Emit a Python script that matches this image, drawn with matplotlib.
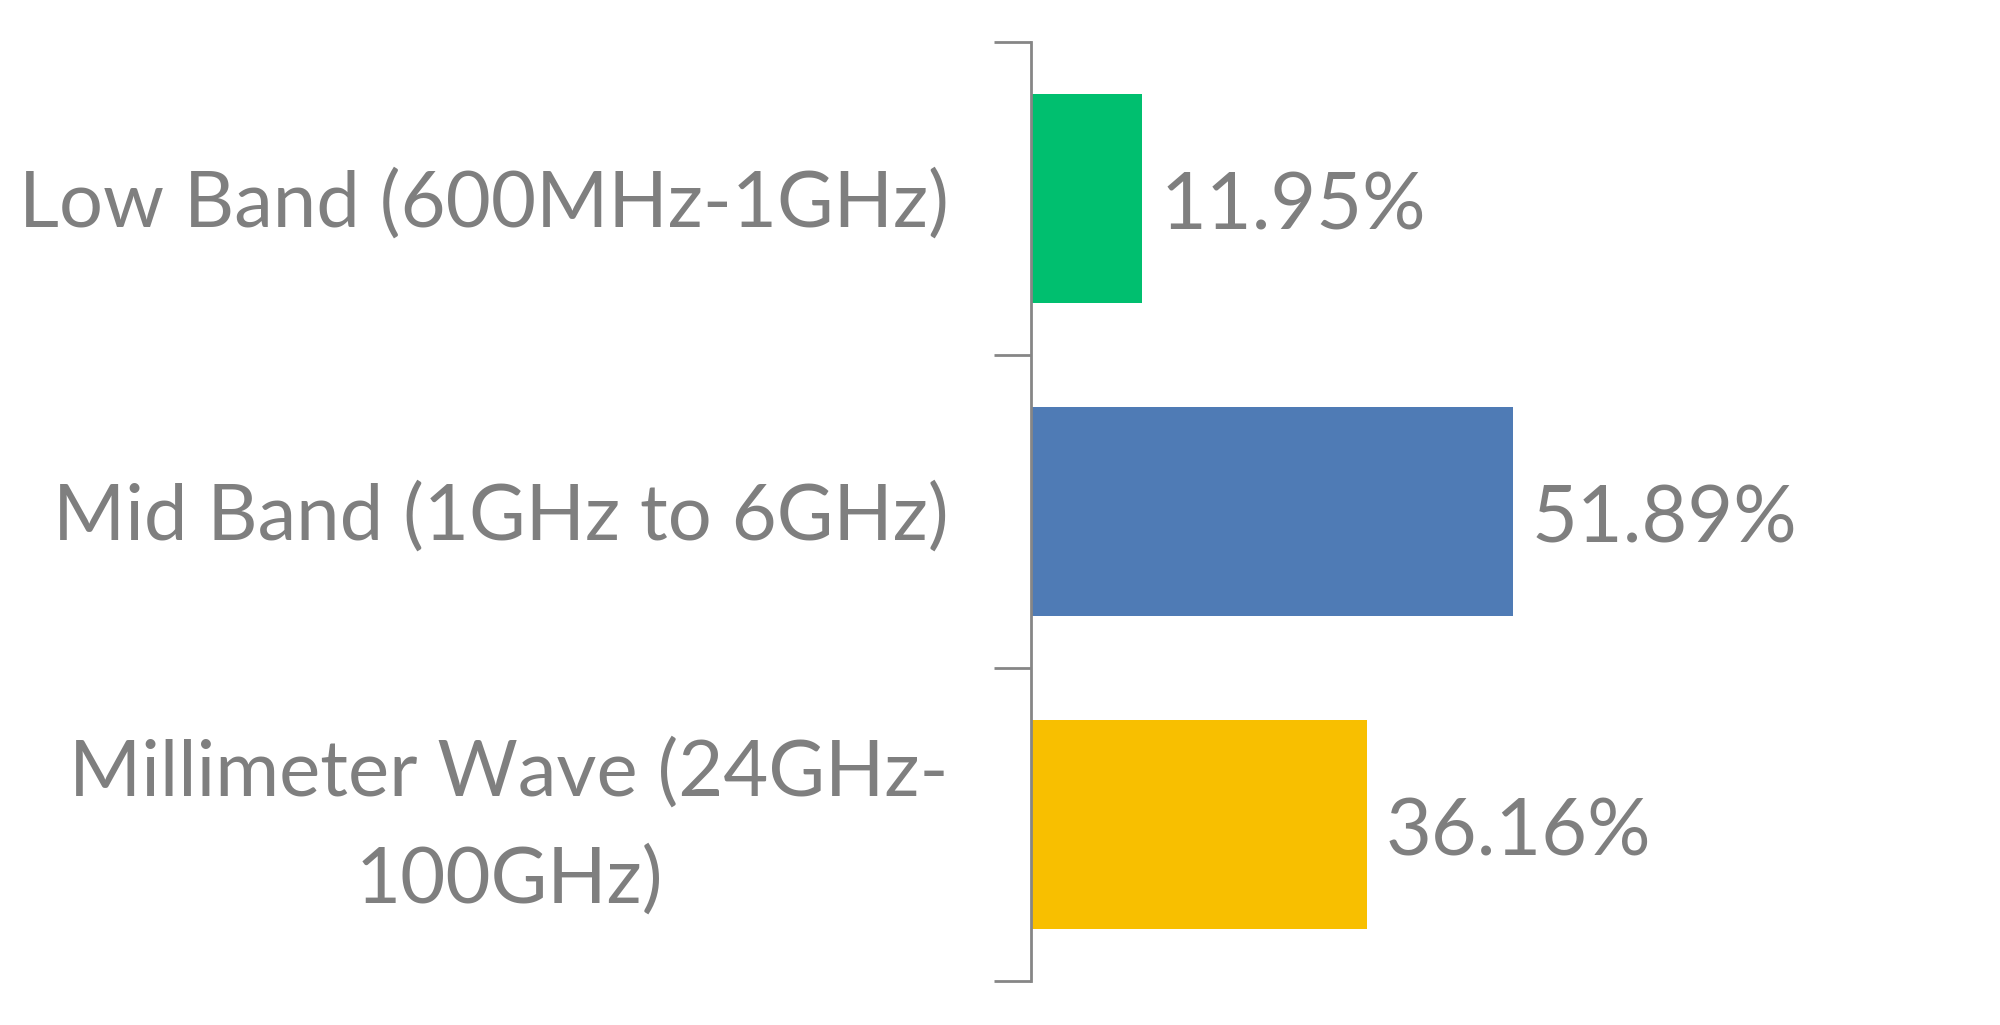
import matplotlib
matplotlib.use("Agg")
import matplotlib.pyplot as plt
from matplotlib.ticker import FixedLocator

categories = ["Low Band (600MHz-1GHz)", "Mid Band (1GHz to 6GHz)", "Millimeter Wave (24GHz-\n100GHz)"]
values = [11.95, 51.89, 36.16]
value_labels = ["11.95%", "51.89%", "36.16%"]
colors = ["#00BF6F", "#4F7BB5", "#F8BF00"]

plt.rcParams['font.family'] = ['Lato', 'DejaVu Sans']
text_color = "#7F7F7F"
axis_color = "#868686"

fig = plt.figure(figsize=(20, 10.25), dpi=100)
ax = fig.add_axes([0.5153, 0.0429, 0.4645, 0.9161])

y = list(range(len(categories)))
ax.barh(y, values, height=0.667, color=colors)

ax.set_xlim(0, 100)
ax.set_ylim(2.5, -0.5)

for yi, v, lab in zip(y, values, value_labels):
    ax.annotate(lab, xy=(v, yi), xytext=(19, -31), textcoords="offset pixels",
                ha="left", va="baseline", fontsize=57, color=text_color)

for yi, cat in zip(y, categories):
    multi = "\n" in cat
    ax.annotate(cat, xy=(0, yi), xycoords=("axes fraction", "data"),
                xytext=(-82, -3 if multi else -28), textcoords="offset pixels",
                ha="right", va="center" if multi else "baseline",
                multialignment="center", linespacing=1.62,
                fontsize=56, color=text_color, annotation_clip=False)

for s in ["top", "right", "bottom"]:
    ax.spines[s].set_visible(False)
ax.spines["left"].set_color(axis_color)
ax.spines["left"].set_linewidth(2)

ax.set_xticks([])
ax.yaxis.set_major_locator(FixedLocator([-0.5, 0.5, 1.5, 2.5]))
ax.yaxis.set_major_formatter(plt.NullFormatter())
ax.tick_params(axis="y", which="major", length=27, width=2, color=axis_color)

fig.savefig("out.png", dpi=100, facecolor="white")
